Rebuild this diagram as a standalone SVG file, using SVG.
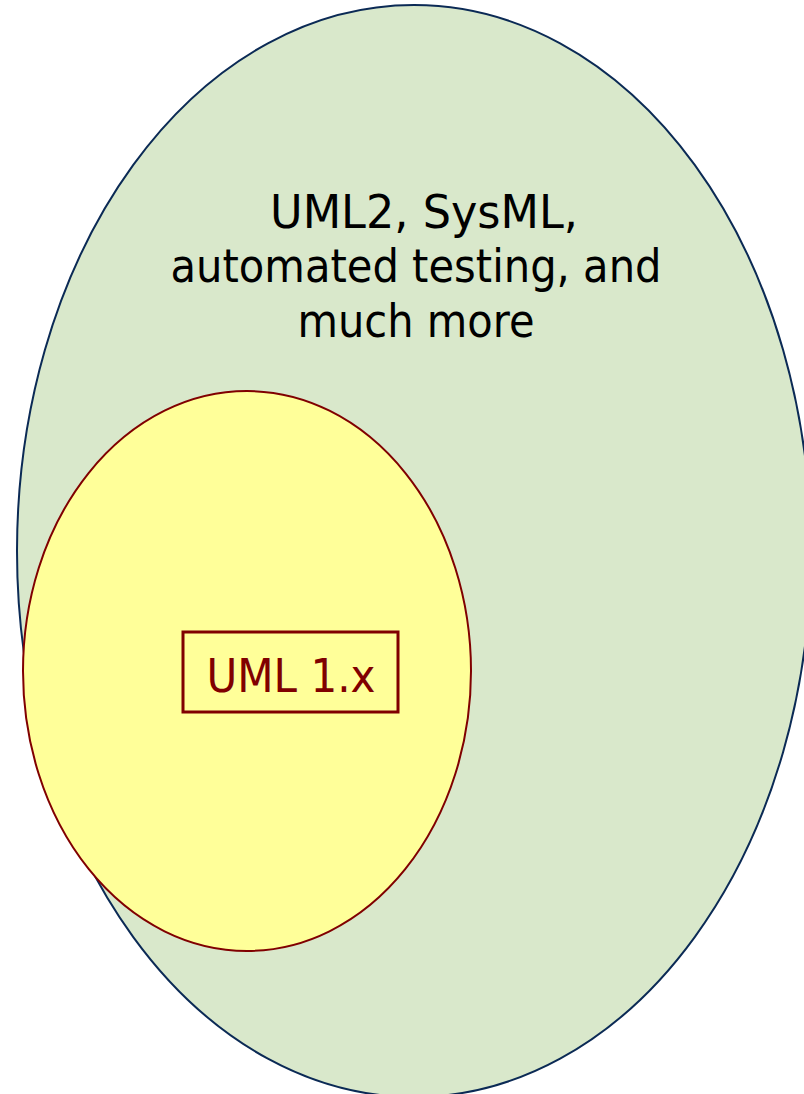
<svg xmlns="http://www.w3.org/2000/svg" width="804" height="1094" viewBox="0 0 804 1094">
<style>
.t{font-family:"DejaVu Sans","Liberation Sans",sans-serif;font-size:47px;text-anchor:middle}
</style>
<rect width="804" height="1094" fill="#ffffff"/>
<g id="outer">
<ellipse cx="414" cy="551" rx="397" ry="546" fill="#D9E8CB" stroke="#0B2A55" stroke-width="2"/>
<text class="t" x="424" y="228" fill="#000" textLength="308" lengthAdjust="spacingAndGlyphs">UML2, SysML,</text>
<text class="t" x="416" y="282" fill="#000" textLength="491" lengthAdjust="spacingAndGlyphs">automated testing, and</text>
<text class="t" x="416" y="337" fill="#000" textLength="237" lengthAdjust="spacingAndGlyphs">much more</text>
</g>
<g id="inner">
<ellipse cx="247" cy="671" rx="224" ry="280" fill="#FFFF99" stroke="#800000" stroke-width="2"/>
<rect x="183" y="632" width="215" height="80" fill="none" stroke="#800000" stroke-width="3"/>
<text class="t" x="291" y="692" fill="#800000" textLength="169" lengthAdjust="spacingAndGlyphs">UML 1.x</text>
</g>
</svg>
